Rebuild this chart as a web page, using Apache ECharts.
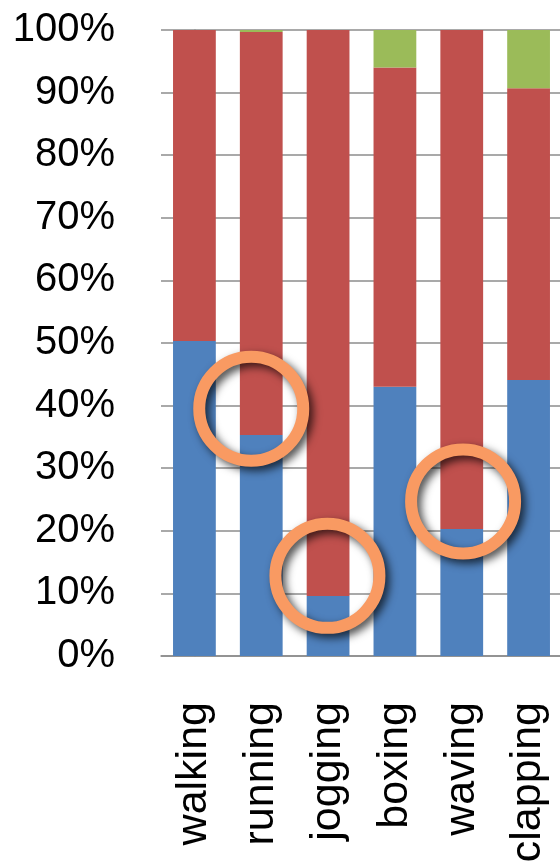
<!DOCTYPE html>
<html>
<head>
<meta charset="utf-8">
<title>Activity share</title>
<script src="https://cdn.jsdelivr.net/npm/echarts@6/dist/echarts.min.js"></script>
<style>
  html, body { margin: 0; padding: 0; background: #ffffff; }
  #chart { width: 560px; height: 863px; }
</style>
</head>
<body>
<div id="chart"></div>
<script>
// Activity categories along the x axis
const categories = ['walking', 'running', 'jogging', 'boxing', 'waving', 'clapping'];

// Stacked shares per activity, in percent
const blueShare  = [50.3, 35.3, 9.6, 43.0, 20.3, 44.1];
const redShare   = [49.7, 64.4, 90.4, 51.0, 79.7, 46.6];
const greenShare = [0.0, 0.3, 0.0, 6.0, 0.0, 9.3];

// Y axis ticks
const yTicks = [0, 10, 20, 30, 40, 50, 60, 70, 80, 90, 100];

// Highlight rings: position in category units (0 = first bar) and percent
const ringX = [0.85, 1.99, 4.02];
const ringY = [39.5, 12.8, 24.7];

const FONT = "'Liberation Sans', Arial, sans-serif";
const GRID_COLOR = '#8c8c8c';

const chart = echarts.init(document.getElementById('chart'), null, { renderer: 'canvas' });

chart.setOption({
  animation: false,
  backgroundColor: '#ffffff',
  grid: {
    left: 161, right: -2, top: 30, bottom: 207,
    containLabel: false,
    outerBoundsMode: 'none'
  },
  xAxis: [
    {
      type: 'category',
      data: categories,
      axisLine: { show: true, lineStyle: { color: GRID_COLOR, width: 1.5 } },
      axisTick: { show: false },
      axisLabel: {
        rotate: 90,
        margin: 46,
        fontFamily: FONT,
        fontSize: 43,
        color: '#000000'
      },
      splitLine: { show: false }
    },
    {
      // hidden linear axis used to place the highlight rings
      type: 'value',
      min: -0.5,
      max: 5.5,
      show: false,
      position: 'bottom'
    }
  ],
  yAxis: {
    type: 'value',
    min: yTicks[0],
    max: yTicks[yTicks.length - 1],
    interval: 10,
    axisLine: { show: true, lineStyle: { color: GRID_COLOR, width: 1.5 } },
    axisTick: { show: false },
    axisLabel: {
      margin: 46,
      fontFamily: FONT,
      fontSize: 40,
      color: '#000000',
      formatter: '{value}%'
    },
    splitLine: { show: true, lineStyle: { color: GRID_COLOR, width: 1.5 } }
  },
  series: [
    {
      name: 'Series 1',
      type: 'bar',
      stack: 'share',
      barWidth: '64%',
      data: blueShare,
      itemStyle: { color: '#4F81BD' },
      silent: true
    },
    {
      name: 'Series 2',
      type: 'bar',
      stack: 'share',
      barWidth: '64%',
      data: redShare,
      itemStyle: { color: '#C0504D' },
      silent: true
    },
    {
      name: 'Series 3',
      type: 'bar',
      stack: 'share',
      barWidth: '64%',
      data: greenShare,
      itemStyle: { color: '#9BBB59' },
      silent: true
    },
    {
      name: 'Highlights',
      type: 'scatter',
      xAxisIndex: 1,
      yAxisIndex: 0,
      z: 10,
      silent: true,
      symbol: 'circle',
      symbolSize: 104,
      data: ringX.map((x, i) => [x, ringY[i]]),
      itemStyle: {
        opacity: 1,
        color: 'rgba(0,0,0,0)',
        borderColor: '#F99A62',
        borderWidth: 12,
        shadowBlur: 9,
        shadowOffsetX: 4,
        shadowOffsetY: 4,
        shadowColor: 'rgba(0,0,0,0.7)'
      }
    }
  ]
});
</script>
</body>
</html>
